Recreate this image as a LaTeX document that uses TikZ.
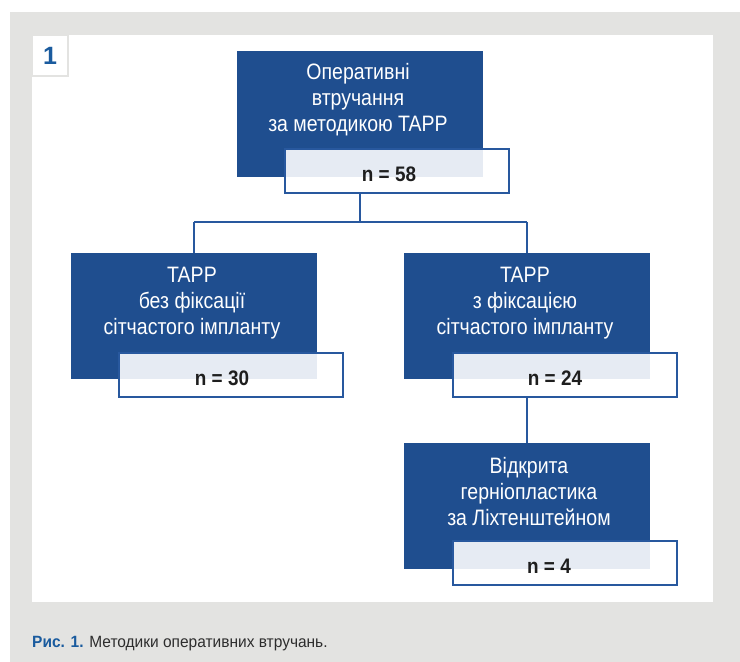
\documentclass[tikz,border=0pt]{standalone}
\usepackage{fontspec}
\setmainfont{Liberation Sans}
\newfontfamily\boxfont[FakeStretch=0.875]{Liberation Sans}
\newfontfamily\nfont[FakeStretch=0.9]{Liberation Sans}
\newfontfamily\capfont[FakeStretch=0.95]{Liberation Sans}
\definecolor{boxblue}{RGB}{31,78,143}
\definecolor{lineblue}{RGB}{40,88,158}
\definecolor{capblue}{RGB}{26,91,158}
\definecolor{panelgray}{RGB}{227,227,225}
\definecolor{overlapfill}{RGB}{230,235,243}
\definecolor{darktext}{RGB}{30,30,30}
\definecolor{captext}{RGB}{45,45,45}
\begin{document}
\begin{tikzpicture}[x=1pt,y=-1pt,
  bluebox/.style={rectangle, fill=boxblue, minimum width=246pt, minimum height=126pt, inner sep=0pt, outer sep=0pt},
  nbox/.style={rectangle, fill=white, minimum width=224pt, minimum height=44pt, inner sep=0pt, outer sep=0pt},
  nborder/.style={draw=lineblue, line width=2pt},
  boxtext/.style={text=white, align=center, font=\boxfont\fontsize{22.3}{26}\selectfont, inner sep=0pt},
  ntext/.style={text=darktext, anchor=base, font=\nfont\fontsize{21}{24}\selectfont\bfseries, inner sep=0pt},
  conn/.style={draw=lineblue, line width=2pt},
  overlap/.style={fill=overlapfill}]
\useasboundingbox (0,0) rectangle (740,662);
\fill[white] (0,0) rectangle (740,662);
\fill[panelgray] (10,12) rectangle (740,662);
\fill[white] (32,35) rectangle (713,602);
\node[rectangle, minimum width=36pt, minimum height=41pt, inner sep=0pt, outer sep=0pt, fill=white, draw=panelgray, line width=1.5pt, text=capblue, font=\fontsize{25}{28}\selectfont\bfseries] (num) at (50,55.5) {1};

% top
\node[bluebox] (top) at (360,114) {};
\node[nbox] (n58) at (397,171) {};
\fill[overlap] (n58.north west) rectangle (top.south east);
\draw[nborder] (n58.north west) rectangle (n58.south east);
\node[boxtext] (toptext) at (358,100) {Оперативні\\втручання\\за методикою TAPP};
\node[ntext] (n58t) at (389,181) {n = 58};

% left
\node[bluebox] (left) at (194,316) {};
\node[nbox] (n30) at (231,374.5) {};
\fill[overlap] (n30.north west) rectangle (left.south east);
\draw[nborder] (n30.north west) rectangle (n30.south east);
\node[boxtext] (lefttext) at (192,303) {TAPP\\без фіксації\\сітчастого імпланту};
\node[ntext] (n30t) at (222,385) {n = 30};

% right
\node[bluebox] (right) at (527,316) {};
\node[nbox] (n24) at (564.5,374.5) {};
\fill[overlap] (n24.north west) rectangle (right.south east);
\draw[nborder] (n24.north west) rectangle (n24.south east);
\node[boxtext] (righttext) at (525,303) {TAPP\\з фіксацією\\сітчастого імпланту};
\node[ntext] (n24t) at (555,385) {n = 24};

% bottom
\node[bluebox] (bottom) at (527,506) {};
\node[nbox] (n4) at (564.5,563) {};
\fill[overlap] (n4.north west) rectangle (bottom.south east);
\draw[nborder] (n4.north west) rectangle (n4.south east);
\node[boxtext] (bottomtext) at (529,492) {Відкрита\\герніопластика\\за Ліхтенштейном};
\node[ntext] (n4t) at (549,573) {n = 4};

% connectors
\coordinate (j) at (360,222);
\draw[conn] (top.center |- n58.south) -- (j);
\draw[conn] (j -| left.north) -- (j -| right.north);
\draw[conn] (j -| left.north) -- (left.north);
\draw[conn] (j -| right.north) -- (right.north);
\draw[conn] (right.center |- n24.south) -- (bottom.north);

% caption
\node[anchor=base west, inner sep=0pt, text=captext, font=\capfont\fontsize{16.3}{19}\selectfont] (cap) at (32,647) {\textcolor{capblue}{\bfseries Рис. 1.} Методики оперативних втручань.};
\end{tikzpicture}
\end{document}
